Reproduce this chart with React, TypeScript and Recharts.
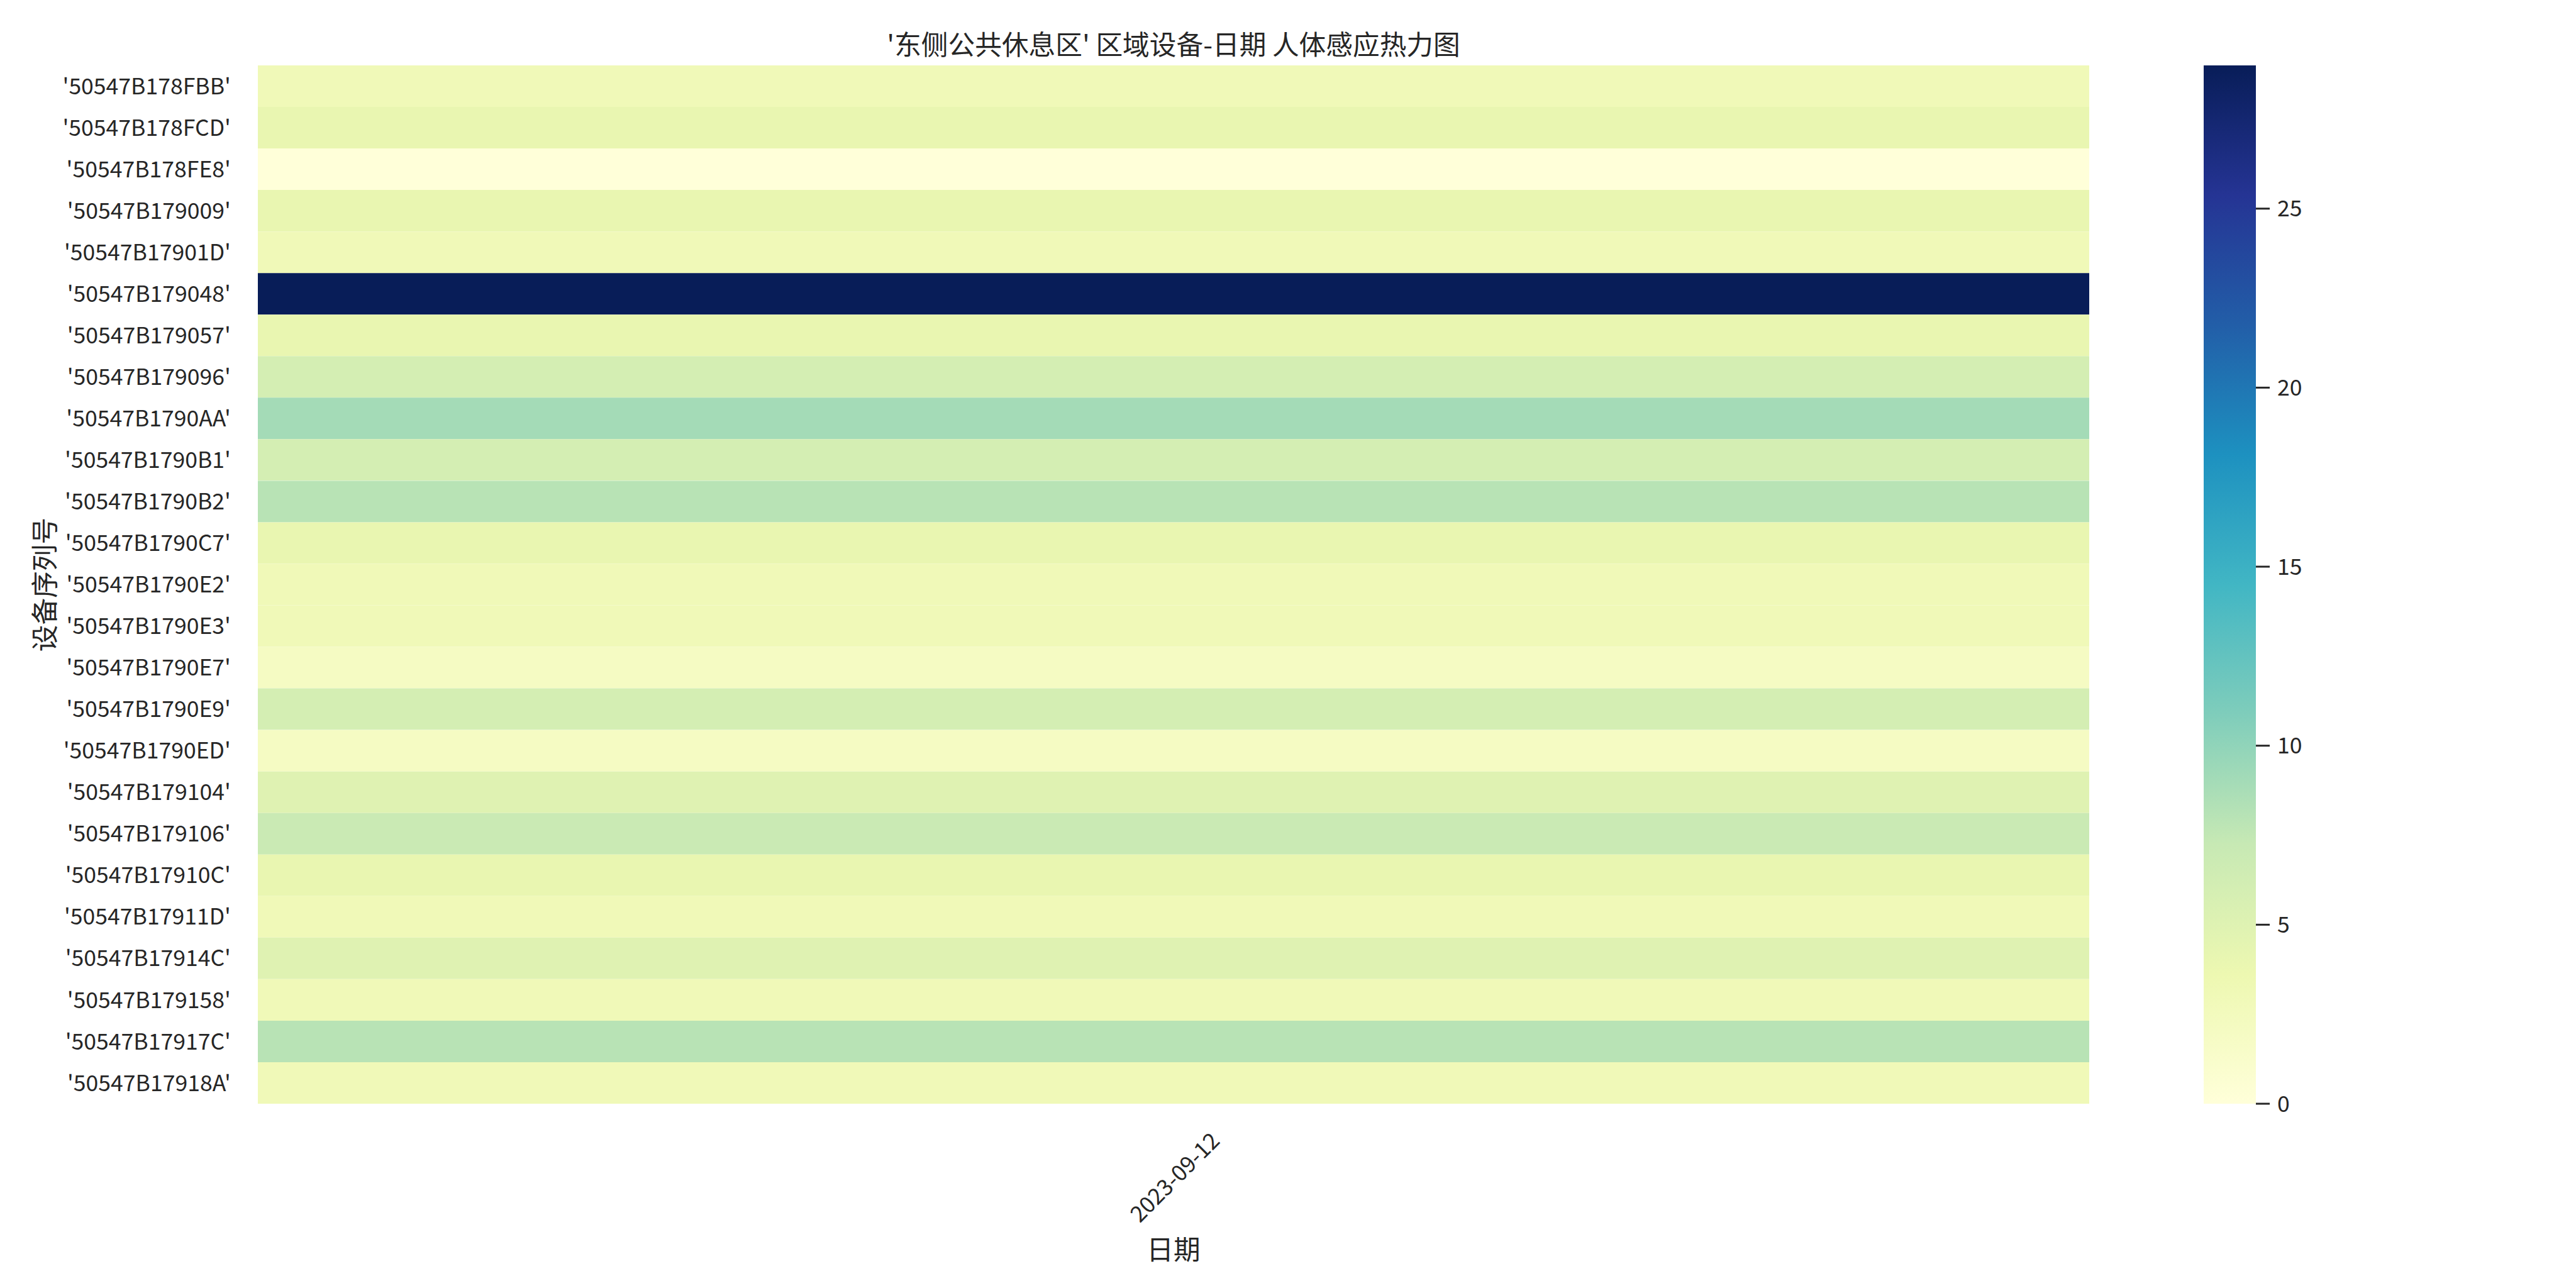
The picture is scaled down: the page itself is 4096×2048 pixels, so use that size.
import React from 'react';
import { BarChart, Bar, XAxis, YAxis, Cell } from 'recharts';

const title = "'东侧公共休息区' 区域设备-日期 人体感应热力图";
const xAxisTitle = '日期';
const yAxisTitle = '设备序列号';
const dates = ['2023-09-12'];
const devices = [
  "'50547B178FBB'", "'50547B178FCD'", "'50547B178FE8'", "'50547B179009'", "'50547B17901D'",
  "'50547B179048'", "'50547B179057'", "'50547B179096'", "'50547B1790AA'", "'50547B1790B1'",
  "'50547B1790B2'", "'50547B1790C7'", "'50547B1790E2'", "'50547B1790E3'", "'50547B1790E7'",
  "'50547B1790E9'", "'50547B1790ED'", "'50547B179104'", "'50547B179106'", "'50547B17910C'",
  "'50547B17911D'", "'50547B17914C'", "'50547B179158'", "'50547B17917C'", "'50547B17918A'",
];
// counts for the single date 2023-09-12
const counts = [3, 4, 0, 4, 3, 29, 4, 6, 9, 6, 8, 4, 3, 3, 2, 6, 2, 5, 7, 4, 3, 5, 3, 8, 3];
const colorbarTicks = [0, 5, 10, 15, 20, 25];
const vmin = 0;
const vmax = 29;

const YLGNBU = ['#ffffd9', '#edf8b1', '#c7e9b4', '#7fcdbb', '#41b6c4', '#1d91c0', '#225ea8', '#253494', '#081d58'];

function hexToRgb(h: string) {
  return [parseInt(h.slice(1, 3), 16), parseInt(h.slice(3, 5), 16), parseInt(h.slice(5, 7), 16)];
}
function cmap(v: number) {
  let t = (v - vmin) / (vmax - vmin);
  t = Math.max(0, Math.min(1, t));
  const pos = t * (YLGNBU.length - 1);
  const i = Math.min(Math.floor(pos), YLGNBU.length - 2);
  const f = pos - i;
  const a = hexToRgb(YLGNBU[i]);
  const b = hexToRgb(YLGNBU[i + 1]);
  const c = a.map((x, k) => Math.round(x + (b[k] - x) * f));
  return `rgb(${c[0]},${c[1]},${c[2]})`;
}

const tableData = devices.map((d, r) => {
  const row: any = { device: d };
  dates.forEach((_, i) => {
    row[`d${i}`] = 1;
    row[`c${i}`] = counts[r];
  });
  return row;
});
const colorbarData = [{ name: 'cb', value: vmax }];

const FONT = "'Noto Sans CJK SC', 'Noto Sans', sans-serif";
const TEXT = '#262626';
const W = 4096;
const H = 2048;

const DateTick = (props: any) => {
  const { x, y, payload } = props;
  const label = dates[Math.floor(payload.value)] ?? '';
  return (
    <g transform={`translate(${x},${y + 115})`}>
      <text
        transform="rotate(-45)"
        textAnchor="middle"
        dominantBaseline="central"
        fill={TEXT}
        fontSize={35.6}
        fontFamily={FONT}
      >
        {label}
      </text>
    </g>
  );
};

const YTitle = (props: any) => {
  const vb = props.viewBox || {};
  const cx = (vb.x || 0) + 68;
  const cy = (vb.y || 0) + (vb.height || 0) / 2;
  return (
    <text
      x={cx}
      y={cy}
      transform={`rotate(-90, ${cx}, ${cy})`}
      textAnchor="middle"
      dominantBaseline="central"
      fill={TEXT}
      fontSize={42.7}
      fontFamily={FONT}
    >
      {yAxisTitle}
    </text>
  );
};

export default function App() {
  return (
    <div style={{ position: 'absolute', left: 0, top: 0, width: W, height: H, background: '#fff', fontFamily: FONT }}>
      <div
        style={{
          position: 'absolute',
          left: 410,
          width: 3322 - 410,
          top: 68 - 25,
          height: 50,
          lineHeight: '50px',
          textAlign: 'center',
          fontSize: 42.7,
          color: TEXT,
          fontFamily: FONT,
          whiteSpace: 'pre',
        }}
      >
        {title}
      </div>
      <div style={{ position: 'absolute', left: 0, top: 0 }}>
        <BarChart
          width={W}
          height={H}
          data={tableData}
          layout="vertical"
          margin={{ top: 104, right: W - 3322, bottom: 0, left: 0 }}
          barCategoryGap={0}
          barGap={0}
        >
          <XAxis
            type="number"
            domain={[0, dates.length]}
            ticks={dates.map((_, i) => i + 0.5)}
            height={H - 1755}
            axisLine={false}
            tickLine={false}
            tickSize={0}
            tickMargin={0}
            tick={<DateTick />}
            interval={0}
            label={{ value: xAxisTitle, position: 'insideBottom', offset: 45, fill: TEXT, fontSize: 42.7, fontFamily: FONT }}
          />
          <YAxis
            type="category"
            dataKey="device"
            width={410}
            axisLine={false}
            tickLine={false}
            tickSize={0}
            tickMargin={43}
            interval={0}
            tick={{ fill: TEXT, fontSize: 35.6, fontFamily: FONT }}
            label={<YTitle />}
          />
          {dates.map((_, i) => (
            <Bar key={i} dataKey={`d${i}`} stackId="cols" isAnimationActive={false}>
              {tableData.map((row, r) => (
                <Cell key={r} fill={cmap(row[`c${i}`])} />
              ))}
            </Bar>
          ))}
        </BarChart>
      </div>
      <div style={{ position: 'absolute', left: 3504, top: 0 }}>
        <BarChart
          width={300}
          height={H}
          data={colorbarData}
          margin={{ top: 104, right: 0, bottom: H - 1755, left: 0 }}
          barCategoryGap={0}
        >
          <defs>
            <linearGradient id="ylgnbu" x1="0" y1="1" x2="0" y2="0">
              {YLGNBU.map((c, i) => (
                <stop key={i} offset={`${(i / (YLGNBU.length - 1)) * 100}%`} stopColor={c} />
              ))}
            </linearGradient>
          </defs>
          <XAxis dataKey="name" hide />
          <YAxis
            type="number"
            orientation="right"
            domain={[vmin, vmax]}
            ticks={colorbarTicks}
            width={300 - 83}
            axisLine={false}
            tickLine={{ stroke: TEXT, strokeWidth: 3 }}
            tickSize={22}
            tickMargin={12}
            interval={0}
            tick={{ fill: TEXT, fontSize: 35.6, fontFamily: FONT }}
          />
          <Bar dataKey="value" fill="url(#ylgnbu)" isAnimationActive={false} />
        </BarChart>
      </div>
    </div>
  );
}
